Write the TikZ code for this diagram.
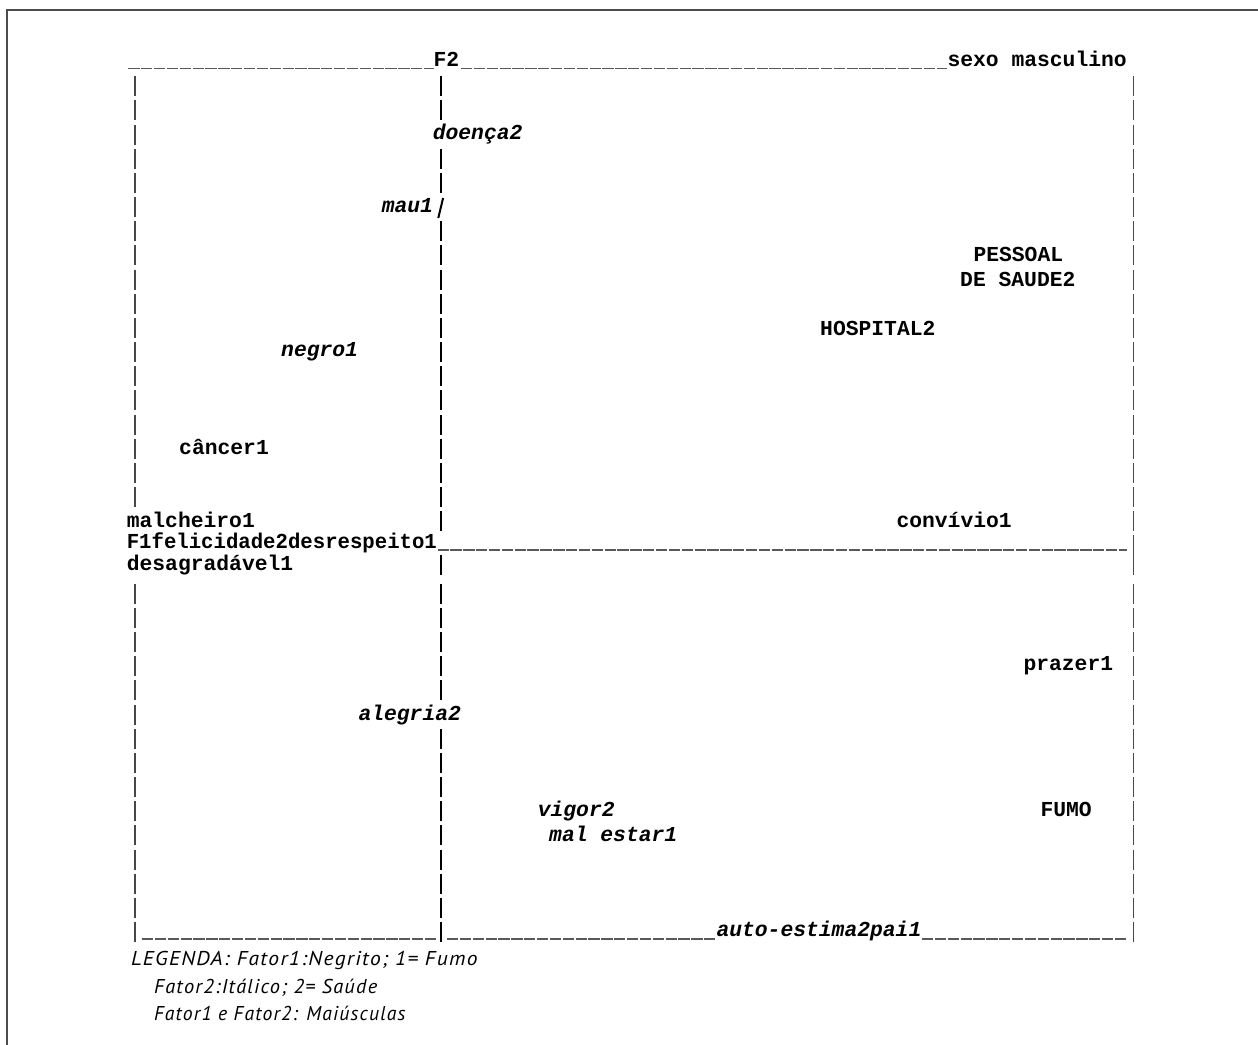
\documentclass[tikz,border=0pt]{standalone}
\usepackage{fontspec}
\setmonofont{Liberation Mono}
\newfontfamily\legfont{PT Sans}[LetterSpace=6]
\begin{document}
\begin{tikzpicture}[x=0.75pt,y=-0.75pt,
  mono/.style={inner sep=0pt, outer sep=0pt, anchor=base west, font=\fontsize{16}{16}\selectfont\ttfamily\bfseries},
  monoit/.style={inner sep=0pt, outer sep=0pt, anchor=base west, font=\fontsize{16}{16}\selectfont\ttfamily\bfseries\itshape},
  leg/.style={inner sep=0pt, outer sep=0pt, anchor=base west, font=\fontsize{15}{15}\selectfont\legfont\itshape},
  sidebar/.style={line width=1.15pt, black!72},
  midbar/.style={line width=1.5pt, black},
  uline/.style={line width=1pt, black!65, dash pattern=on 8.5pt off 1.14pt},
  frame/.style={line width=1pt, black!70}]
\useasboundingbox (0,0) rectangle (1258,1045);
% page frame
\draw[frame] (7,1045) -- (7,10) -- (1258,10);
% left axis bars
\foreach \r in {1,...,18}
  \draw[sidebar] (135,{67+24.17*\r-15}) -- (135,{67+24.17*\r+5});
\foreach \r in {22,...,36}
  \draw[sidebar] (135,{67+24.17*\r-15}) -- (135,{67+24.17*\r+5});
% middle axis bars
\foreach \r in {1,2,4,5}
  \draw[midbar] (440.7,{67+24.17*\r-15}) -- (440.7,{67+24.17*\r+5});
\draw[midbar] (438.3,218) -- (443.1,198);
\foreach \r in {7,...,19}
  \draw[midbar] (440.7,{67+24.17*\r-15}) -- (440.7,{67+24.17*\r+5});
\draw[midbar] (440.7,555) -- (440.7,575);
\foreach \r in {22,...,26}
  \draw[midbar] (440.7,{67+24.17*\r-15}) -- (440.7,{67+24.17*\r+5});
\foreach \r in {28,...,36}
  \draw[midbar] (440.7,{67+24.17*\r-15}) -- (440.7,{67+24.17*\r+5});
% right axis bars
\foreach \r in {1,...,20}
  \draw[sidebar] (1133.3,{67+24.17*\r-15}) -- (1133.3,{67+24.17*\r+5});
\draw[sidebar] (1133.3,555) -- (1133.3,575);
\foreach \r in {22,...,36}
  \draw[sidebar] (1133.3,{67+24.17*\r-15}) -- (1133.3,{67+24.17*\r+5});
% horizontal lines made of underscores
\draw[uline] (128.3,68.5) -- (434,68.5);
\draw[uline] (461,68.5) -- (947,68.5);
\draw[uline] (437.5,550) -- (1127,550);
\draw[uline] (142,939) -- (436,939);
\draw[uline] (447,939) -- (716,939);
\draw[uline] (922,939) -- (1127,939);
% labels
\node[mono] (f2) at (433.5,67) {F2};
\node[mono] (sexo) at (947.5,67) {sexo masculino};
\node[monoit] (doenca) at (432.8,139.5) {doença2};
\node[monoit] (mau) at (381.8,213) {mau1};
\node[mono] (pessoal) at (973.5,261.7) {PESSOAL};
\node[mono] (saude) at (960.2,286.7) {DE SAUDE2};
\node[mono] (hospital) at (820.2,335) {HOSPITAL2};
\node[monoit] (negro) at (281.2,356.7) {negro1};
\node[mono] (cancer) at (179.2,454) {câncer1};
\node[mono] (malcheiro) at (126.8,527.3) {malcheiro1};
\node[mono] (convivio) at (896.5,527.3) {convívio1};
\node[mono] (f1) at (126.8,548.3) {\scalebox{0.969}[1]{F1felicidade2desrespeito1}};
\node[mono] (desagradavel) at (126.8,570) {desagradável1};
\node[mono] (prazer) at (1023.5,670.7) {prazer1};
\node[monoit] (alegria) at (358.5,720) {alegria2};
\node[monoit] (vigor) at (537.8,816.7) {vigor2};
\node[mono] (fumo) at (1040.5,816.7) {FUMO};
\node[monoit] (malestar) at (549.2,841.7) {mal estar1};
\node[monoit] (autoestima) at (716.5,936.7) {auto-estima2pai1};
% legend
\node[leg] (leg1) at (131,965) {\scalebox{1.077}[1]{LEGENDA: Fator1:Negrito; 1= Fumo}};
\node[leg] (leg2) at (154,993) {\scalebox{1.02}[1]{Fator2:Itálico; 2= Saúde}};
\node[leg] (leg3) at (154,1020.5) {\scalebox{0.983}[1]{Fator1 e Fator2: Maiúsculas}};
\end{tikzpicture}
\end{document}
